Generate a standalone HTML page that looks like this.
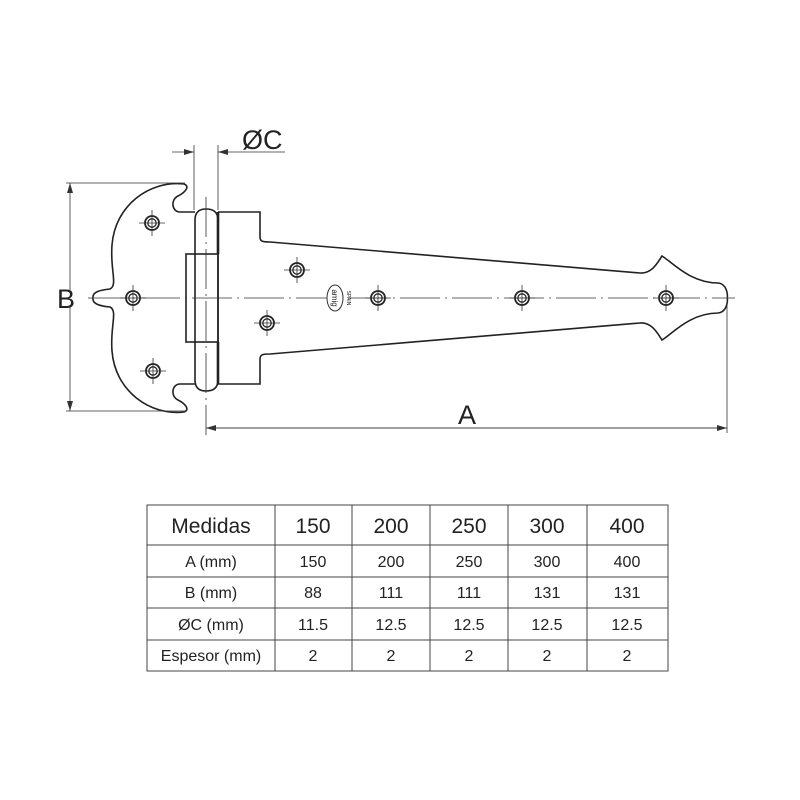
<!DOCTYPE html>
<html><head><meta charset="utf-8"><style>
html,body{margin:0;padding:0;background:#fff;width:800px;height:800px;overflow:hidden}
svg{display:block}
text{font-family:"Liberation Sans","DejaVu Sans",sans-serif;fill:#222}
</style></head><body>
<svg width="800" height="800" viewBox="0 0 800 800" xmlns="http://www.w3.org/2000/svg">
<defs>
<marker id="ar" viewBox="0 0 10 6" refX="10" refY="3" markerWidth="10" markerHeight="6" orient="auto" markerUnits="userSpaceOnUse"><path d="M0,0 L10,3 L0,6 z" fill="#333"/></marker>
<g id="hole"><circle r="7" fill="none" stroke="#222" stroke-width="1.8"/><circle r="4.2" fill="none" stroke="#222" stroke-width="1.3"/><line x1="-13" y1="0" x2="13" y2="0" stroke="#333" stroke-width="0.8"/><line x1="0" y1="-13" x2="0" y2="13" stroke="#333" stroke-width="0.8"/></g>
</defs>
<g fill="none" stroke="#222" stroke-width="1.6">
<path d="M195,212 L180,212 C172,212 170,200 178,196 C186,192 190,186 184,184 C150,180 115,205 112,245 C110,270 118,285 110,289 C100,290 92,292 93,298 C92,304 100,306 110,307 C118,311 110,326 112,351 C115,391 150,416 184,412 C190,410 186,404 178,400 C170,396 172,384 180,384 L195,384"/>
<path d="M218,212 L260,212 L260,237 C260,242 264,242 270,242 L640,273 C652,274 658,262 662,256 C672,262 690,283 718,283 C728,284 728,298 727,298 C728,298 728,312 718,313 C690,313 672,334 662,340 C658,334 652,322 640,323 L270,354 C264,354 260,354 260,359 L260,384 L218,384"/>
<path d="M195,220 Q195,209 206,209 Q218,209 218,220 L218,380 Q218,391 206,391 Q195,391 195,380 Z"/>
<rect x="186" y="254" width="32" height="88"/>
<line x1="218" y1="212" x2="218" y2="254" stroke-width="2.6"/>
<line x1="218" y1="342" x2="218" y2="384" stroke-width="2.6"/>
</g>
<g stroke="#333" stroke-width="0.8" fill="none">
<line x1="88" y1="298" x2="735" y2="298" stroke-dasharray="40,5,2,5"/>
<line x1="206" y1="197" x2="206" y2="435" stroke-dasharray="40,5,2,5"/>
<line x1="194" y1="145" x2="194" y2="210"/>
<line x1="218" y1="145" x2="218" y2="210"/>
<line x1="172" y1="152" x2="194" y2="152" marker-end="url(#ar)"/>
<line x1="285" y1="152" x2="218" y2="152" marker-end="url(#ar)"/>
<line x1="66" y1="183" x2="185" y2="183"/>
<line x1="66" y1="411" x2="185" y2="411"/>
<line x1="70" y1="290" x2="70" y2="183" marker-end="url(#ar)"/>
<line x1="70" y1="306" x2="70" y2="411" marker-end="url(#ar)"/>
<line x1="727" y1="298" x2="727" y2="433"/>
<line x1="206" y1="428" x2="727" y2="428" marker-end="url(#ar)"/>
<line x1="727" y1="428" x2="206" y2="428" marker-end="url(#ar)"/>
</g>
<use href="#hole" x="152" y="223"/>
<use href="#hole" x="133" y="298"/>
<use href="#hole" x="153" y="371"/>
<use href="#hole" x="297" y="270"/>
<use href="#hole" x="267" y="323"/>
<use href="#hole" x="378" y="298"/>
<use href="#hole" x="522" y="298"/>
<use href="#hole" x="666" y="298"/>
<ellipse cx="335" cy="298" rx="8" ry="13" fill="#fff" stroke="#333" stroke-width="1"/>
<text x="335" y="301" font-size="8" text-anchor="middle" transform="rotate(90 335 298)">amig</text>
<text x="347" y="298" font-size="5" text-anchor="middle" transform="rotate(90 347 298)">SPAIN</text>
<text x="242" y="149" font-size="27">ØC</text>
<text x="57" y="308" font-size="27">B</text>
<text x="458" y="424" font-size="27">A</text>
<g stroke="#444" stroke-width="1" fill="none">
<rect x="147" y="505" width="521" height="166"/>
<line x1="147" y1="545" x2="668" y2="545"/>
<line x1="147" y1="577" x2="668" y2="577"/>
<line x1="147" y1="608" x2="668" y2="608"/>
<line x1="147" y1="640" x2="668" y2="640"/>
<line x1="275" y1="505" x2="275" y2="671"/>
<line x1="352" y1="505" x2="352" y2="671"/>
<line x1="430" y1="505" x2="430" y2="671"/>
<line x1="508" y1="505" x2="508" y2="671"/>
<line x1="587" y1="505" x2="587" y2="671"/>
</g>
<g text-anchor="middle">
<g font-size="21"><text x="211" y="533">Medidas</text><text x="313" y="533">150</text><text x="391" y="533">200</text><text x="469" y="533">250</text><text x="547" y="533">300</text><text x="627" y="533">400</text></g>
<g font-size="16">
<text x="211" y="567">A (mm)</text><text x="313" y="567">150</text><text x="391" y="567">200</text><text x="469" y="567">250</text><text x="547" y="567">300</text><text x="627" y="567">400</text>
<text x="211" y="598">B (mm)</text><text x="313" y="598">88</text><text x="391" y="598">111</text><text x="469" y="598">111</text><text x="547" y="598">131</text><text x="627" y="598">131</text>
<text x="211" y="630">ØC (mm)</text><text x="313" y="630">11.5</text><text x="391" y="630">12.5</text><text x="469" y="630">12.5</text><text x="547" y="630">12.5</text><text x="627" y="630">12.5</text>
<text x="211" y="661">Espesor (mm)</text><text x="313" y="661">2</text><text x="391" y="661">2</text><text x="469" y="661">2</text><text x="547" y="661">2</text><text x="627" y="661">2</text>
</g></g>
</svg>
</body></html>
